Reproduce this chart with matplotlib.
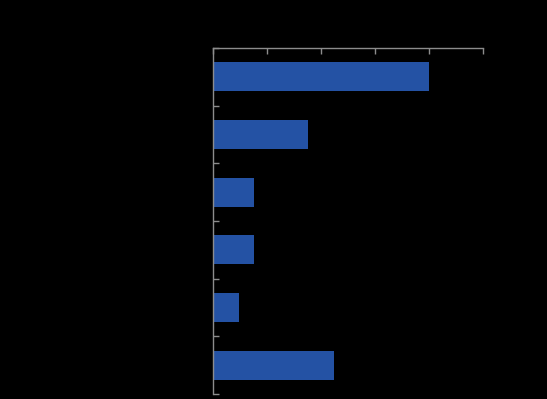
import matplotlib
matplotlib.use("Agg")
from matplotlib import pyplot as plt
import numpy as np

categories = ["A", "B", "C", "D", "E", "F"]
values = [40, 17.6, 7.6, 7.6, 4.8, 22.4]
x_ticks = [0, 10, 20, 30, 40, 50]

fig = plt.figure(figsize=(5.47, 3.99), dpi=100, facecolor="black")
ax = fig.add_axes([213 / 547, 5 / 399, 270 / 547, 346 / 399])
ax.set_facecolor("black")

y = np.arange(len(categories))
ax.barh(y, values, height=0.5, color="#2452a4")

ax.set_xlim(0, 50)
ax.set_ylim(len(categories) - 0.5, -0.5)
ax.xaxis.tick_top()
ax.set_xticks(x_ticks)
ax.set_xticklabels([""] * len(x_ticks))
ax.set_yticks(np.arange(len(categories) + 1) - 0.5)
ax.set_yticklabels([""] * (len(categories) + 1))
ax.tick_params(axis="both", direction="in", color="#8c8c8c", length=4, width=1)

for side in ["right", "bottom"]:
    ax.spines[side].set_visible(False)
for side in ["top", "left"]:
    ax.spines[side].set_color("#8c8c8c")
    ax.spines[side].set_linewidth(1)

fig.savefig("out.png", dpi=100, facecolor="black")
